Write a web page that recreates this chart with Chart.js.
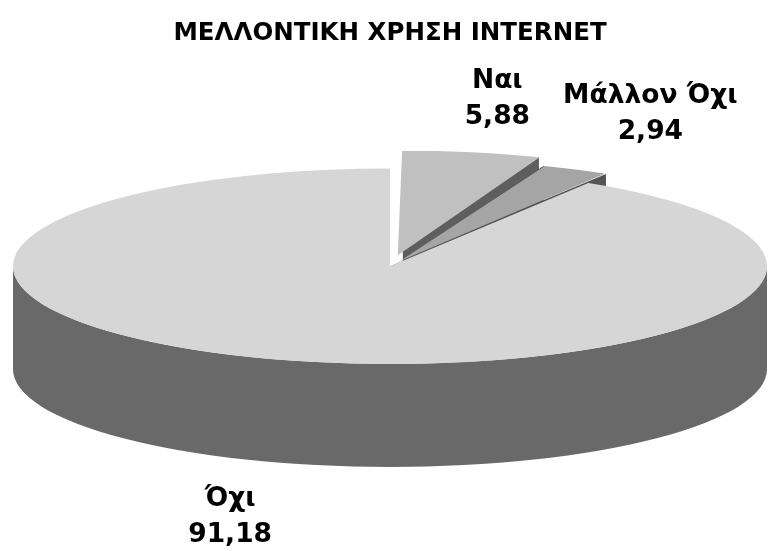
<!DOCTYPE html>
<html lang="el">
<head>
<meta charset="utf-8">
<title>Μελλοντική χρήση Internet</title>
<script src="https://cdn.jsdelivr.net/npm/chart.js@4.4.1/dist/chart.umd.min.js"></script>
<style>
    html, body { margin: 0; padding: 0; background: #ffffff; }
    #contenedor { width: 779px; height: 551px; position: relative; }
</style>
</head>
<body>
<div id="contenedor"><canvas id="graficoInternet"></canvas></div>
<script>
const categorias = ["Ναι", "Μάλλον Όχι", "Όχι"];
const porcentajes = [5.88, 2.94, 91.18];
const etiquetasPorcentaje = ["5,88", "2,94", "91,18"];

const coloresCara = ["#c0c0c0", "#a5a5a5", "#d6d6d6"];
const coloresLado = ["#5e5e5e", "#545454", "#696969"];
const separaciones = [55, 28, 0];

const profundidad = 103;

// geometria del pastel "3D": el circulo de Chart.js se aplasta en una elipse
function geometria(chart) {
    const arcos = chart.getDatasetMeta(0).data;
    const area = chart.chartArea;
    const r = arcos[0].outerRadius;
    const rx = (area.right - area.left) / 2;
    const ry = (area.bottom - area.top - profundidad) / 2;
    return {
        arcos: arcos,
        rx: rx,
        ry: ry,
        x0: arcos[0].x,
        y0: arcos[0].y,
        cx: (area.left + area.right) / 2,
        cy: area.top + ry,
        sx: rx / r,
        sy: ry / r,
    };
}

// mismo desplazamiento que aplica Chart.js a un arco con offset
function desplazamiento(arco, g) {
    const off = (arco.options.offset || 0) / 4;
    const circ = arco.endAngle - arco.startAngle;
    const fix = 1 - Math.sin(Math.min(Math.PI, circ));
    const total = off * (1 + fix);
    const medio = (arco.startAngle + arco.endAngle) / 2;
    return {
        x: g.cx + Math.cos(medio) * total * g.sx,
        y: g.cy + Math.sin(medio) * total * g.sy,
    };
}

const pastel3d = {
    id: "pastel3d",
    beforeDatasetsDraw(chart) {
        const g = geometria(chart);
        const ctx = chart.ctx;
        ctx.save();
        // paredes de los cortes
        g.arcos.forEach((arco, i) => {
            const p = desplazamiento(arco, g);
            ctx.fillStyle = coloresLado[i];
            [arco.startAngle, arco.endAngle].forEach((ang) => {
                const qx = p.x + Math.cos(ang) * g.rx;
                const qy = p.y + Math.sin(ang) * g.ry;
                ctx.beginPath();
                ctx.moveTo(p.x, p.y);
                ctx.lineTo(qx, qy);
                ctx.lineTo(qx, qy + profundidad);
                ctx.lineTo(p.x, p.y + profundidad);
                ctx.closePath();
                ctx.fill();
            });
        });
        // pared exterior (solo la mitad de delante)
        g.arcos.forEach((arco, i) => {
            const p = desplazamiento(arco, g);
            ctx.fillStyle = coloresLado[i];
            for (let k = -1; k <= 1; k++) {
                const a0 = Math.max(arco.startAngle, 2 * Math.PI * k);
                const a1 = Math.min(arco.endAngle, 2 * Math.PI * k + Math.PI);
                if (a1 <= a0) continue;
                ctx.beginPath();
                ctx.ellipse(p.x, p.y, g.rx, g.ry, 0, a0, a1);
                ctx.ellipse(p.x, p.y + profundidad, g.rx, g.ry, 0, a1, a0, true);
                ctx.closePath();
                ctx.fill();
            }
        });
        ctx.restore();

        ctx.save();
        ctx.translate(g.cx, g.cy);
        ctx.scale(g.sx, g.sy);
        ctx.translate(-g.x0, -g.y0);
    },
    afterDatasetsDraw(chart) {
        const ctx = chart.ctx;
        ctx.restore();

        const g = geometria(chart);
        ctx.save();
        ctx.font = "bold 26.5px 'DejaVu Sans'";
        ctx.fillStyle = "#000000";
        ctx.textAlign = "center";
        ctx.textBaseline = "middle";
        g.arcos.forEach((arco, i) => {
            const medio = (arco.startAngle + arco.endAngle) / 2;
            const c = Math.cos(medio);
            const s = Math.sin(medio);
            const x = g.cx + c * g.rx * 1.55;
            let y = g.cy + s * g.ry * 1.74;
            if (s > 0) y += profundidad * 0.85;
            ctx.fillText(categorias[i], x, y - 18);
            ctx.fillText(etiquetasPorcentaje[i], x, y + 18);
        });
        ctx.restore();
    },
};

const dataGraficoInternet = {
    labels: categorias,
    datasets: [
        {
            label: "%",
            data: porcentajes,
            backgroundColor: coloresCara,
            borderWidth: 0,
            offset: separaciones,
            clip: false,
        },
    ],
};

const configGraficoInternet = {
    type: "pie",
    data: dataGraficoInternet,
    options: {
        responsive: true,
        maintainAspectRatio: false,
        animation: false,
        layout: {
            padding: { left: 13, right: 12, top: 0, bottom: 84 },
        },
        plugins: {
            legend: { display: false },
            tooltip: { enabled: false },
            title: {
                display: true,
                text: "ΜΕΛΛΟΝΤΙΚΗ ΧΡΗΣΗ INTERNET",
                color: "#000000",
                padding: { top: 19, bottom: 120 },
                font: {
                    weight: "bold",
                    size: 24.5,
                    family: "'DejaVu Sans'",
                },
            },
        },
    },
    plugins: [pastel3d],
};

const chartInternet = new Chart(
    document.getElementById("graficoInternet"),
    configGraficoInternet
);
</script>
</body>
</html>
